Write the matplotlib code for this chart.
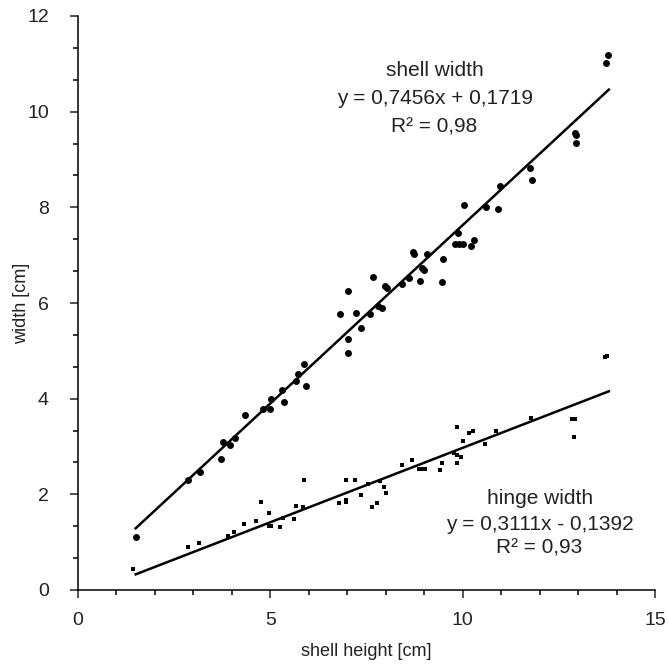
import matplotlib
matplotlib.use("Agg")
import matplotlib.pyplot as plt
from matplotlib.ticker import MultipleLocator, AutoMinorLocator
import numpy as np

plt.rcParams['font.family'] = ['Liberation Sans', 'DejaVu Sans']

# --- data ------------------------------------------------------------------
shell_h = [1.5, 2.87, 3.17, 3.73, 3.78, 3.95, 4.08, 4.34, 4.8, 4.99, 5.03,
           5.31, 5.35, 5.66, 5.72, 5.87, 5.92, 6.82, 7.02, 7.02, 7.02, 7.22,
           7.37, 7.58, 7.67, 7.8, 7.89, 7.97, 8.02, 8.43, 8.6, 8.71, 8.74,
           8.9, 8.95, 8.99, 9.06, 9.45, 9.49, 9.79, 9.88, 9.9, 10.01, 10.04,
           10.21, 10.29, 10.6, 10.92, 10.98, 11.76, 11.81, 12.91, 12.94,
           12.94, 13.73, 13.77]
shell_w = [1.1, 2.29, 2.47, 2.73, 3.09, 3.03, 3.17, 3.66, 3.78, 3.78, 3.99,
           4.18, 3.92, 4.36, 4.52, 4.72, 4.27, 5.78, 6.26, 5.24, 4.96, 5.79,
           5.48, 5.78, 6.54, 5.94, 5.9, 6.36, 6.31, 6.4, 6.53, 7.07, 7.02,
           6.47, 6.73, 6.68, 7.02, 6.43, 6.91, 7.23, 7.46, 7.23, 7.23, 8.05,
           7.19, 7.32, 8.0, 7.96, 8.45, 8.83, 8.57, 9.55, 9.51,
           9.34, 11.01, 11.19]

hinge_h = [1.42, 2.85, 3.14, 3.9, 4.05, 4.32, 4.62, 4.77, 4.97, 4.97, 5.03,
           5.26, 5.33, 5.61, 5.66, 5.84, 5.88, 6.79, 6.98, 6.98, 6.98, 7.19,
           7.35, 7.54, 7.64, 7.76, 7.84, 7.96, 8.0, 8.41, 8.69, 8.87, 8.95,
           9.01, 9.4, 9.47, 9.77, 9.84, 9.86, 9.86, 9.96, 10.01, 10.16, 10.27,
           10.57, 10.87, 11.78, 12.85, 12.91, 12.89, 13.69, 13.75]
hinge_w = [0.44, 0.89, 0.98, 1.13, 1.22, 1.37, 1.45, 1.85, 1.62, 1.34, 1.34,
           1.32, 1.5, 1.48, 1.76, 1.73, 2.3, 1.81, 1.83, 1.88, 2.3, 2.3,
           1.99, 2.22, 1.74, 1.81, 2.28, 2.15, 2.02, 2.61, 2.72, 2.52, 2.52,
           2.52, 2.51, 2.65, 2.87, 2.82, 2.65, 3.41, 2.79, 3.12, 3.28, 3.32,
           3.05, 3.32, 3.6, 3.57, 3.57, 3.19, 4.87, 4.9]

shell_fit = (0.7456, 0.1719)
hinge_fit = (0.3111, -0.1392)
fit_range = [1.5, 13.8]

# --- plot --------------------------------------------------------------------
fig = plt.figure(figsize=(6.69, 6.64), dpi=100)
ax = fig.add_axes([78 / 669, 74 / 664, 577 / 669, 574 / 664])

ax.plot(shell_h, shell_w, 'o', color='black', markersize=5, markeredgewidth=0)
ax.plot(hinge_h, hinge_w, 's', color='black', markersize=3, markeredgewidth=0)

xs = np.array(fit_range)
ax.plot(xs, shell_fit[0] * xs + shell_fit[1], color='black', lw=1.8)
ax.plot(xs, hinge_fit[0] * xs + hinge_fit[1], color='black', lw=1.8)

ax.set_xlim(0, 15)
ax.set_ylim(0, 12)
ax.xaxis.set_major_locator(MultipleLocator(5))
ax.xaxis.set_minor_locator(MultipleLocator(1))
ax.yaxis.set_major_locator(MultipleLocator(2))
ax.yaxis.set_minor_locator(AutoMinorLocator(3))

for s in ['top', 'right']:
    ax.spines[s].set_visible(False)
for s in ['left', 'bottom']:
    ax.spines[s].set_linewidth(1.1)

ax.tick_params(which='major', direction='out', length=6, width=1.1,
               labelsize=14, colors='#222222')
ax.tick_params(axis='x', which='major', pad=10)
ax.tick_params(axis='y', which='major', pad=15)
ax.tick_params(which='minor', direction='out', length=3.5, width=1.1)

ax.set_xlabel("shell height [cm]", fontsize=13, labelpad=10, color='#222222')
ax.set_ylabel("width [cm]", fontsize=13, color='#222222')
ax.yaxis.set_label_coords(-0.083, 0.5)

txt = dict(ha='center', va='center', fontsize=15, color='#222222')
ax.text(9.27, 10.87, "shell width", **txt)
ax.text(9.27, 10.27, "y = 0,7456x + 0,1719", **txt)
ax.text(9.27, 9.68, "R² = 0,98", **txt)
ax.text(12.0, 1.92, "hinge width", **txt)
ax.text(12.0, 1.36, "y = 0,3111x - 0,1392", **txt)
ax.text(12.0, 0.88, "R² = 0,93", **txt)

fig.savefig("out.png", dpi=100)
